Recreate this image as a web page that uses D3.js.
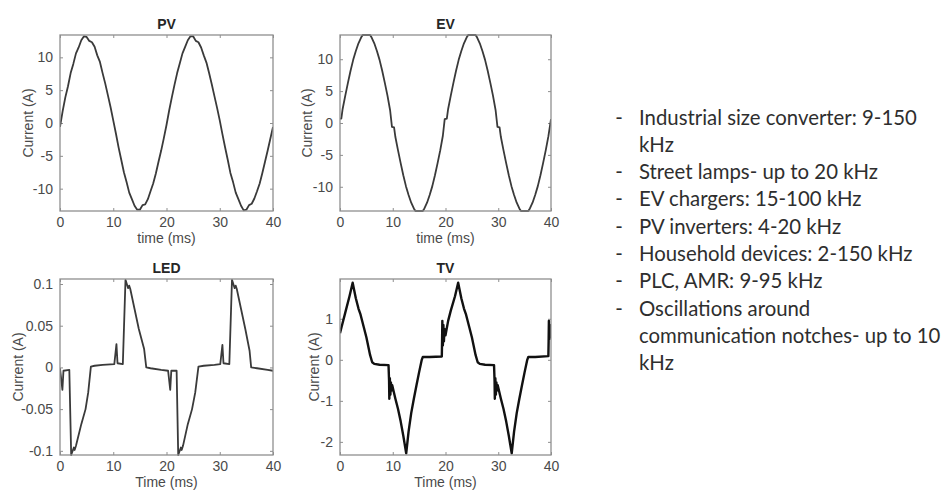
<!DOCTYPE html>
<html>
<head>
<meta charset="utf-8">
<script src="https://cdn.jsdelivr.net/npm/d3@7"></script>
<style>
body { margin: 0; background: #fff; }
svg { display: block; }
.tick text { font-family: "Liberation Sans", Arial, sans-serif; font-size: 14px; fill: #4a4a4a; }
.tick line { stroke: #8f8f8f; }
.box { fill: none; stroke: #8f8f8f; stroke-width: 1.3; }
.title { font-family: "Liberation Sans", Arial, sans-serif; font-size: 14px; font-weight: bold; fill: #262626; }
.label { font-family: "Liberation Sans", Arial, sans-serif; font-size: 14px; fill: #4a4a4a; }
.trace { fill: none; stroke-linejoin: round; }
.note { font-family: Lato, "Open Sans", sans-serif; fill: #2e2e2e; }
</style>
</head>
<body>
<div id="graphdiv"></div>
<script>
document.addEventListener("DOMContentLoaded", init);

// time axis ticks shared by all four plots (ms)
var timeTicks = [0, 10, 20, 30, 40];

// PV inverter current, sampled every 0.5 ms
var pvTime = [0,0.5,1,1.5,2,2.5,3,3.5,4,4.5,5,5.5,6,6.5,7,7.5,8,8.5,9,9.5,
    10,10.5,11,11.5,12,12.5,13,13.5,14,14.5,15,15.5,16,16.5,17,17.5,18,18.5,19,19.5,
    20,20.5,21,21.5,22,22.5,23,23.5,24,24.5,25,25.5,26,26.5,27,27.5,28,28.5,29,29.5,
    30,30.5,31,31.5,32,32.5,33,33.5,34,34.5,35,35.5,36,36.5,37,37.5,38,38.5,39,39.5,40];
var pvCurrent = [-0.6,1.8,3.9,5.6,7.6,9.0,10.6,11.5,12.6,13.2,13.1,12.5,12.3,11.6,10.3,9.3,7.6,6.0,4.2,2.4,
    0.4,-1.6,-3.7,-5.6,-7.5,-9.0,-10.6,-11.6,-12.6,-13.2,-13.2,-12.5,-12.4,-11.6,-10.4,-9.2,-7.7,-5.9,-4.2,-2.3,
    -0.3,1.9,3.9,5.8,7.6,9.1,10.6,11.6,12.6,13.2,13.2,12.5,12.3,11.5,10.3,9.2,7.6,5.9,4.1,2.3,
    0.4,-1.7,-3.7,-5.6,-7.6,-9.0,-10.6,-11.6,-12.6,-13.3,-13.2,-12.5,-12.3,-11.5,-10.4,-9.2,-7.6,-5.9,-4.2,-2.4,-0.6];

// EV charger current
var evTime = [0,0.25,0.5,1,1.5,2,2.5,3,3.5,4,4.3,5.7,6,6.5,7,7.5,8,8.5,9,9.5,9.85,10.25,10.5,
    11,11.5,12,12.5,13,13.5,14,14.3,15.7,16,16.5,17,17.5,18,18.5,19,19.5,19.85,20.25,20.5,
    21,21.5,22,22.5,23,23.5,24,24.3,25.7,26,26.5,27,27.5,28,28.5,29,29.5,29.85,30.25,30.5,
    31,31.5,32,32.5,33,33.5,34,34.3,35.7,36,36.5,37,37.5,38,38.5,39,39.5,40];
var evCurrent = [0.7,0.7,2.2,4.3,6.3,8.2,9.9,11.3,12.5,13.4,13.8,13.8,13.4,12.5,11.3,9.9,8.2,6.3,4.3,2.0,-0.6,-0.7,-2.2,
    -4.3,-6.3,-8.2,-9.9,-11.3,-12.5,-13.4,-13.8,-13.8,-13.4,-12.5,-11.3,-9.9,-8.2,-6.3,-4.3,-2.0,0.6,0.7,2.2,
    4.3,6.3,8.2,9.9,11.3,12.5,13.4,13.8,13.8,13.4,12.5,11.3,9.9,8.2,6.3,4.3,2.0,-0.6,-0.7,-2.2,
    -4.3,-6.3,-8.2,-9.9,-11.3,-12.5,-13.4,-13.8,-13.8,-13.4,-12.5,-11.3,-9.9,-8.2,-6.3,-4.3,-2.1,0.6];

// LED lamp current
var ledTime = [0,0.45,0.65,1.75,2.1,2.6,2.75,3.0,4.0,4.8,5.3,5.8,6.5,8,10.2,10.6,10.8,11.8,
    12.3,12.8,13.0,13.2,14.0,14.8,15.8,16.2,17,19,20.3,20.7,20.9,21.9,22.2,22.7,22.85,23.1,
    24,24.8,25.4,26.0,27,29,30.1,30.5,30.7,31.8,32.3,32.8,33.0,33.2,34,34.8,35.6,35.9,37,39,40];
var ledCurrent = [-0.001,-0.027,-0.004,-0.003,-0.105,-0.096,-0.099,-0.094,-0.068,-0.05,-0.03,0.001,0.002,0.003,0.004,0.028,0.005,0.004,
    0.105,0.095,0.098,0.094,0.07,0.046,0.022,0.0,-0.001,-0.003,-0.004,-0.027,-0.004,-0.004,-0.105,-0.096,-0.099,-0.094,
    -0.068,-0.05,-0.03,0.001,0.002,0.003,0.004,0.027,0.005,0.004,0.105,0.095,0.098,0.094,0.07,0.046,0.02,0.0,-0.001,-0.003,-0.004];

// TV current
var tvTime = [0,0.3,1.0,1.8,2.4,3.0,3.5,3.9,4.5,5.0,5.7,6.1,6.5,7.5,9.2,9.3,9.35,9.45,9.55,9.65,9.75,9.9,
    10.5,11.0,11.5,12.0,12.55,13.0,13.5,14.0,14.5,15.0,15.5,15.7,17,19.3,19.35,19.4,19.5,19.6,19.7,19.8,
    20.0,20.5,21.0,21.8,22.4,23.0,23.5,23.9,24.5,25.0,25.7,26.1,26.5,27.5,29.2,29.3,29.35,29.45,29.55,29.65,29.75,29.9,
    30.5,31.0,31.5,32.0,32.55,33.0,33.5,34.0,34.5,35.0,35.5,35.7,37,39.5,39.55,39.6,39.7,39.8,39.9,40];
var tvCurrent = [0.65,0.8,1.15,1.55,1.88,1.5,1.25,1.1,0.8,0.55,0.12,-0.06,-0.1,-0.12,-0.13,-0.5,-0.95,-0.45,-0.85,-0.55,-0.75,-0.62,
    -0.95,-1.2,-1.5,-1.85,-2.28,-1.75,-1.3,-0.95,-0.62,-0.3,0.0,0.07,0.07,0.08,0.45,0.95,0.35,0.85,0.45,0.75,
    0.6,0.95,1.2,1.55,1.88,1.5,1.25,1.1,0.8,0.55,0.12,-0.06,-0.1,-0.12,-0.13,-0.5,-0.95,-0.45,-0.85,-0.55,-0.75,-0.62,
    -0.95,-1.2,-1.5,-1.85,-2.28,-1.75,-1.3,-0.95,-0.62,-0.3,0.0,0.07,0.07,0.09,0.45,0.95,0.5,0.85,0.55,0.75];

var pvTicks = [-10, -5, 0, 5, 10];
var evTicks = [-10, -5, 0, 5, 10];
var ledTicks = [-0.1, -0.05, 0, 0.05, 0.1];
var tvTicks = [-2, -1, 0, 1];

// bullet list on the right, one entry per item, already split into lines
var noteItems = [
    ["Industrial size converter: 9-150", "kHz"],
    ["Street lamps- up to 20 kHz"],
    ["EV chargers: 15-100 kHz"],
    ["PV inverters: 4-20 kHz"],
    ["Household devices: 2-150 kHz"],
    ["PLC, AMR: 9-95 kHz"],
    ["Oscillations around", "communication notches- up to 10", "kHz"]
];

function drawPanel(svg, p) {
    var x = d3.scaleLinear().domain([0, 40]).range([p.left, p.right]);
    var y = d3.scaleLinear().domain(p.yDomain).range([p.bottom, p.top]);
    var g = svg.append("g").attr("class", "panel");

    // ticks point inward on all four sides, like a boxed matlab axes
    g.append("g").attr("transform", "translate(0," + p.bottom + ")")
        .call(d3.axisBottom(x).tickValues(timeTicks).tickSizeInner(-3).tickSizeOuter(0).tickPadding(6));
    g.append("g").attr("transform", "translate(0," + p.top + ")")
        .call(d3.axisTop(x).tickValues(timeTicks).tickSizeInner(-3).tickSizeOuter(0).tickFormat(""));
    g.append("g").attr("transform", "translate(" + p.left + ",0)")
        .call(d3.axisLeft(y).tickValues(p.yTicks).tickSizeInner(-3).tickSizeOuter(0).tickPadding(7).tickFormat(function(d){ return String(d); }));
    g.append("g").attr("transform", "translate(" + p.right + ",0)")
        .call(d3.axisRight(y).tickValues(p.yTicks).tickSizeInner(-3).tickSizeOuter(0).tickFormat(""));
    g.selectAll(".domain").remove();

    var pts = p.time.map(function(t, i){ return [t, p.current[i]]; });
    var line = d3.line().x(function(d){ return x(d[0]); }).y(function(d){ return y(d[1]); });
    g.append("clipPath").attr("id", "clip" + p.name)
        .append("rect").attr("x", p.left).attr("y", p.top - 1)
        .attr("width", p.right - p.left).attr("height", p.bottom - p.top + 2);
    g.append("path").attr("class", "trace").attr("clip-path", "url(#clip" + p.name + ")")
        .attr("d", line(pts)).attr("stroke", p.color).attr("stroke-width", p.width);

    g.append("rect").attr("class", "box").attr("x", p.left).attr("y", p.top)
        .attr("width", p.right - p.left).attr("height", p.bottom - p.top);

    var midX = (p.left + p.right) / 2;
    g.append("text").attr("class", "title").attr("x", midX).attr("y", p.top - 6)
        .attr("text-anchor", "middle").text(p.name);
    g.append("text").attr("class", "label").attr("x", midX).attr("y", p.bottom + 32)
        .attr("text-anchor", "middle").text(p.xLabel);
    var cy = (p.top + p.bottom) / 2;
    g.append("text").attr("class", "label").attr("text-anchor", "middle")
        .attr("transform", "translate(" + (p.yLabelX + 5) + "," + cy + ") rotate(-90)")
        .text("Current (A)");
}

function drawNotes(svg) {
    var lineGap = 27.3;
    var firstBase = 124.5;
    var size = 20;
    var g = svg.append("g").attr("class", "note").style("font-size", size + "px");
    var row = 0;
    noteItems.forEach(function(item) {
        g.append("text").attr("x", 619).attr("y", firstBase + row * lineGap)
            .attr("text-anchor", "middle").text("-");
        item.forEach(function(str) {
            g.append("text").attr("class", "noteline").attr("x", 639)
                .attr("y", firstBase + row * lineGap).text(str);
            row++;
        });
    });
    // fit the font so the first line spans the same width as in the slide
    var w = g.select(".noteline").node().getComputedTextLength();
    g.style("font-size", (size * 278 / w) + "px");
}

function init() {
    var svg = d3.select("#graphdiv").append("svg").attr("width", 947).attr("height", 490);

    drawPanel(svg, { name: "PV", left: 60, right: 273, top: 35, bottom: 211, yDomain: [-13.4, 13.4],
        yTicks: pvTicks, time: pvTime, current: pvCurrent, xLabel: "time (ms)", yLabelX: 28, color: "#3a3a3a", width: 1.8 });
    drawPanel(svg, { name: "EV", left: 340, right: 551, top: 35, bottom: 211, yDomain: [-13.8, 13.8],
        yTicks: evTicks, time: evTime, current: evCurrent, xLabel: "time (ms)", yLabelX: 307, color: "#3a3a3a", width: 1.8 });
    drawPanel(svg, { name: "LED", left: 60, right: 273, top: 279, bottom: 455, yDomain: [-0.105, 0.106],
        yTicks: ledTicks, time: ledTime, current: ledCurrent, xLabel: "Time (ms)", yLabelX: 18, color: "#3a3a3a", width: 1.8 });
    drawPanel(svg, { name: "TV", left: 340, right: 551, top: 279, bottom: 455, yDomain: [-2.32, 1.97],
        yTicks: tvTicks, time: tvTime, current: tvCurrent, xLabel: "Time (ms)", yLabelX: 314, color: "#111", width: 2.4 });

    drawNotes(svg);
}
</script>
</body>
</html>
